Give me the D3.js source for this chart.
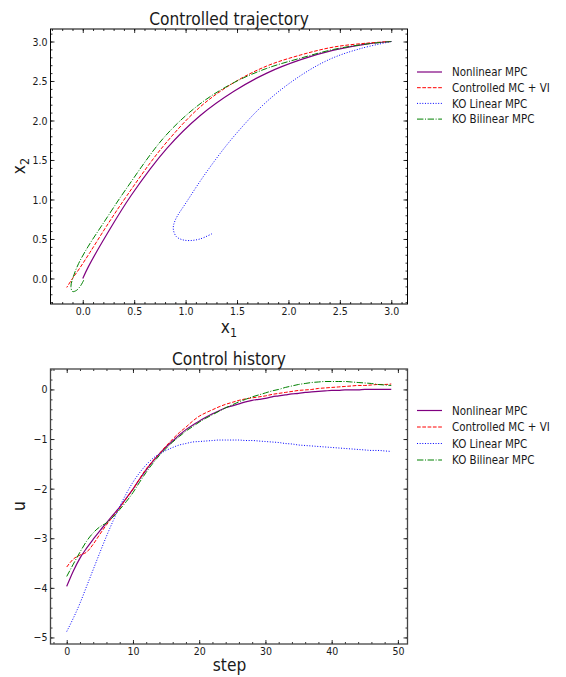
<!DOCTYPE html>
<html>
<head>
<meta charset="utf-8">
<script src="https://cdnjs.cloudflare.com/ajax/libs/d3/7.8.5/d3.min.js"></script>
<style>
  body { margin: 0; background: #fff; }
  svg text { font-family: "DejaVu Sans", sans-serif; fill: #1a1a1a; }
</style>
</head>
<body>
<div id="fig"></div>
<script>
'use strict';

// ---- values ----
var seriesNames = ['Nonlinear MPC', 'Controlled MC + VI', 'KO Linear MPC', 'KO Bilinear MPC'];

// controlled trajectory, (x1, x2) from the start (3,3) toward the origin
var nlX1 = [3.00, 2.77, 2.44, 2.12, 1.79, 1.47, 1.14, 0.82, 0.47, 0.23, 0.055, 0.00];
var nlX2 = [3.00, 2.97, 2.89, 2.77, 2.60, 2.37, 2.06, 1.65, 1.05, 0.55, 0.15, 0.00];
var mcX1 = [3.00, 2.77, 2.44, 2.12, 1.79, 1.47, 1.14, 0.78, 0.43, 0.23, 0.07, -0.03, -0.10, -0.156];
var mcX2 = [3.00, 2.98, 2.93, 2.83, 2.69, 2.48, 2.17, 1.67, 1.05, 0.66, 0.33, 0.13, 0.00, -0.114];
var klX1 = [3.00, 2.70, 2.41, 2.12, 1.79, 1.47, 1.21, 1.01, 0.90, 0.88, 0.91, 0.97, 1.04, 1.14, 1.27];
var klX2 = [3.00, 2.91, 2.78, 2.57, 2.24, 1.80, 1.36, 0.97, 0.74, 0.63, 0.53, 0.49, 0.48, 0.50, 0.575];
var kbX1 = [3.00, 2.77, 2.44, 2.12, 1.79, 1.47, 1.14, 0.80, 0.42, 0.20, 0.05, -0.04, -0.09, -0.115, -0.10, -0.06, -0.02, 0.01];
var kbX2 = [3.00, 2.97, 2.90, 2.79, 2.66, 2.48, 2.21, 1.80, 1.13, 0.70, 0.40, 0.19, 0.03, -0.10, -0.165, -0.15, -0.09, -0.02];

// control history
var steps = d3.range(0, 50);
var uNonlinear = [-3.97, -3.66, -3.40, -3.20, -3.02, -2.85, -2.69, -2.53, -2.37, -2.19,
  -2.01, -1.81, -1.62, -1.45, -1.30, -1.16, -1.04, -0.92, -0.81, -0.72,
  -0.64, -0.56, -0.49, -0.43, -0.37, -0.33, -0.29, -0.25, -0.22, -0.20,
  -0.18, -0.15, -0.13, -0.11, -0.09, -0.08, -0.06, -0.05, -0.04, -0.03,
  -0.02, -0.02, -0.01, -0.01, -0.01, 0.00, 0.00, 0.00, 0.00, 0.00];
var uMcVi = [-3.58, -3.42, -3.34, -3.28, -3.12, -2.92, -2.73, -2.56, -2.39, -2.20,
  -2.01, -1.80, -1.60, -1.44, -1.29, -1.14, -1.00, -0.87, -0.76, -0.64,
  -0.54, -0.47, -0.41, -0.35, -0.30, -0.26, -0.22, -0.19, -0.17, -0.15,
  -0.13, -0.10, -0.08, -0.06, -0.04, -0.02, -0.01, 0.00, 0.02, 0.03,
  0.04, 0.05, 0.06, 0.07, 0.08, 0.08, 0.09, 0.10, 0.10, 0.11];
var uKoLinear = [-4.88, -4.61, -4.31, -3.97, -3.63, -3.29, -2.96, -2.65, -2.36, -2.10,
  -1.87, -1.68, -1.52, -1.39, -1.30, -1.23, -1.17, -1.12, -1.09, -1.06,
  -1.05, -1.04, -1.03, -1.02, -1.02, -1.02, -1.02, -1.03, -1.03, -1.04,
  -1.05, -1.06, -1.07, -1.09, -1.10, -1.12, -1.13, -1.14, -1.15, -1.16,
  -1.17, -1.18, -1.19, -1.20, -1.21, -1.22, -1.23, -1.23, -1.24, -1.25];
var uKoBilinear = [-3.77, -3.52, -3.28, -3.06, -2.89, -2.77, -2.69, -2.57, -2.42, -2.26,
  -2.08, -1.87, -1.67, -1.49, -1.33, -1.19, -1.06, -0.95, -0.84, -0.75,
  -0.66, -0.58, -0.51, -0.44, -0.37, -0.31, -0.25, -0.20, -0.15, -0.11,
  -0.07, -0.03, 0.00, 0.04, 0.07, 0.10, 0.12, 0.14, 0.15, 0.16,
  0.16, 0.16, 0.16, 0.15, 0.14, 0.13, 0.12, 0.10, 0.09, 0.08];

// tick values
var trajTicks = [0, 0.5, 1.0, 1.5, 2.0, 2.5, 3.0];
var stepTicks = [0, 10, 20, 30, 40, 50];
var uTicks = [-5, -4, -3, -2, -1, 0];

// ---- styles ----
var colors = ['#800080', '#ff0000', '#0000ff', '#008000'];
var dashes = [null, '3.7,1.6', '1,1.65', '6.4,1.6,1,1.6'];
var SX = 0.86; // text in the reference is horizontally squeezed

var W = 566, H = 677;
var svg = d3.select('#fig').append('svg')
  .attr('width', W).attr('height', H);

function pad(ext) {
  var d = ext[1] - ext[0];
  return [ext[0] - 0.05 * d, ext[1] + 0.05 * d];
}

function minorTicks(dom, stepSize) {
  var out = [];
  var start = Math.ceil(dom[0] / stepSize);
  var end = Math.floor(dom[1] / stepSize);
  for (var i = start; i <= end; i++) out.push(+(i * stepSize).toFixed(6));
  return out;
}

function label(x, y, txt, size, rotate) {
  var t = svg.append('text')
    .attr('transform', 'translate(' + x + ',' + y + ')' + (rotate ? ' rotate(-90)' : '') + ' scale(' + SX + ',1)')
    .attr('text-anchor', 'middle')
    .style('font-size', size + 'px');
  t.text(txt);
  return t;
}

function drawPanel(p) {
  var x = d3.scaleLinear().domain(p.xDomain).range([p.left, p.right]);
  var y = d3.scaleLinear().domain(p.yDomain).range([p.bottom, p.top]);

  var axes = svg.append('g').attr('class', 'axes');

  // major + minor ticks, all pointing inward
  axes.append('g').attr('transform', 'translate(0,' + p.bottom + ')')
    .call(d3.axisBottom(x).tickValues(p.xTicks).tickSize(-4).tickSizeOuter(0).tickPadding(p.xPad).tickFormat(p.xFmt));
  axes.append('g').attr('transform', 'translate(0,' + p.bottom + ')')
    .call(d3.axisBottom(x).tickValues(minorTicks(p.xDomain, p.xMinor)).tickSize(-2).tickSizeOuter(0).tickFormat(''));
  axes.append('g').attr('transform', 'translate(0,' + p.top + ')')
    .call(d3.axisTop(x).tickValues(p.xTicks).tickSize(-4).tickSizeOuter(0).tickFormat(''));
  axes.append('g').attr('transform', 'translate(0,' + p.top + ')')
    .call(d3.axisTop(x).tickValues(minorTicks(p.xDomain, p.xMinor)).tickSize(-2).tickSizeOuter(0).tickFormat(''));
  axes.append('g').attr('transform', 'translate(' + p.left + ',0)')
    .call(d3.axisLeft(y).tickValues(p.yTicks).tickSize(-4).tickSizeOuter(0).tickPadding(3 / SX).tickFormat(p.yFmt));
  axes.append('g').attr('transform', 'translate(' + p.left + ',0)')
    .call(d3.axisLeft(y).tickValues(minorTicks(p.yDomain, p.yMinor)).tickSize(-2).tickSizeOuter(0).tickFormat(''));
  axes.append('g').attr('transform', 'translate(' + p.right + ',0)')
    .call(d3.axisRight(y).tickValues(p.yTicks).tickSize(-4).tickSizeOuter(0).tickFormat(''));
  axes.append('g').attr('transform', 'translate(' + p.right + ',0)')
    .call(d3.axisRight(y).tickValues(minorTicks(p.yDomain, p.yMinor)).tickSize(-2).tickSizeOuter(0).tickFormat(''));

  axes.selectAll('.domain').remove();
  axes.selectAll('.tick line').attr('stroke', '#000').attr('stroke-width', 0.8);
  axes.selectAll('.tick text')
    .attr('fill', '#1a1a1a')
    .style('font-family', '"DejaVu Sans", sans-serif')
    .style('font-size', '11px')
    .attr('transform', 'scale(' + SX + ',1)');

  // frame
  axes.append('rect')
    .attr('x', p.left).attr('y', p.top)
    .attr('width', p.right - p.left).attr('height', p.bottom - p.top)
    .attr('fill', 'none').attr('stroke', p.frameColor).attr('stroke-width', p.frameWidth);

  // lines
  var clipId = 'clip' + p.top;
  svg.append('clipPath').attr('id', clipId).append('rect')
    .attr('x', p.left).attr('y', p.top)
    .attr('width', p.right - p.left).attr('height', p.bottom - p.top);

  var line = d3.line()
    .x(function(d) { return x(d[0]); })
    .y(function(d) { return y(d[1]); })
    .curve(p.curve);

  svg.append('g').attr('clip-path', 'url(#' + clipId + ')')
    .selectAll('path')
    .data(p.series)
    .enter()
    .append('path')
    .attr('d', function(d) { return line(d); })
    .attr('fill', 'none')
    .attr('stroke', function(d, i) { return colors[i]; })
    .attr('stroke-width', function(d, i) { return i === 0 ? 1.2 : 1; })
    .attr('stroke-dasharray', function(d, i) { return dashes[i]; });

  // legend (outside, to the right)
  var lg = svg.append('g').attr('class', 'legend');
  seriesNames.forEach(function(name, i) {
    var ly = p.legendTop + i * p.legendGap;
    lg.append('line')
      .attr('x1', 417).attr('x2', 442).attr('y1', ly).attr('y2', ly)
      .attr('stroke', colors[i])
      .attr('stroke-width', i === 0 ? 1.2 : 1)
      .attr('stroke-dasharray', dashes[i]);
    lg.append('text')
      .attr('transform', 'translate(452,' + (ly + 4.3) + ') scale(' + SX + ',1)')
      .style('font-size', '12px')
      .text(name);
  });

  return {x: x, y: y};
}

// ---- top panel: trajectories ----
function zipXY(a, b) { return a.map(function(v, i) { return [v, b[i]]; }); }
var trajSeries = [zipXY(nlX1, nlX2), zipXY(mcX1, mcX2), zipXY(klX1, klX2), zipXY(kbX1, kbX2)];
var allX1 = nlX1.concat(mcX1, klX1, kbX1);
var allX2 = nlX2.concat(mcX2, klX2, kbX2);

drawPanel({
  left: 50.5, right: 407.5, top: 29, bottom: 304,
  xDomain: pad(d3.extent(allX1)), yDomain: pad(d3.extent(allX2)),
  xTicks: trajTicks, yTicks: trajTicks, xMinor: 0.1, yMinor: 0.1,
  xFmt: d3.format('.1f'), yFmt: d3.format('.1f'), xPad: 3.5,
  series: trajSeries, curve: d3.curveCatmullRom.alpha(0.5),
  frameColor: '#000', frameWidth: 1,
  legendTop: 72, legendGap: 15.7
});

label(229, 25, 'Controlled trajectory', 18);
var xl1 = label(229, 333, '', 18);
xl1.append('tspan').text('x');
xl1.append('tspan').attr('dy', 4).style('font-size', '13px').text('1');
var xl2 = label(25, 166, '', 18, true);
xl2.append('tspan').text('x');
xl2.append('tspan').attr('dy', 4).style('font-size', '13px').text('2');

// ---- bottom panel: control history ----
var uSeries = [uNonlinear, uMcVi, uKoLinear, uKoBilinear].map(function(u) { return zipXY(steps, u); });
var allU = uNonlinear.concat(uMcVi, uKoLinear, uKoBilinear);

drawPanel({
  left: 50.5, right: 407.5, top: 369, bottom: 644,
  xDomain: pad(d3.extent(steps)), yDomain: pad(d3.extent(allU)),
  xTicks: stepTicks, yTicks: uTicks, xMinor: 2, yMinor: 0.2,
  xFmt: d3.format('d'), yFmt: d3.format('d'), xPad: 3,
  series: uSeries, curve: d3.curveMonotoneX,
  frameColor: '#444', frameWidth: 1.3,
  legendTop: 410.5, legendGap: 16.5
});

label(229, 365, 'Control history', 18);
label(229.5, 671, 'step', 18);
label(25, 506, 'u', 18, true);
</script>
</body>
</html>
